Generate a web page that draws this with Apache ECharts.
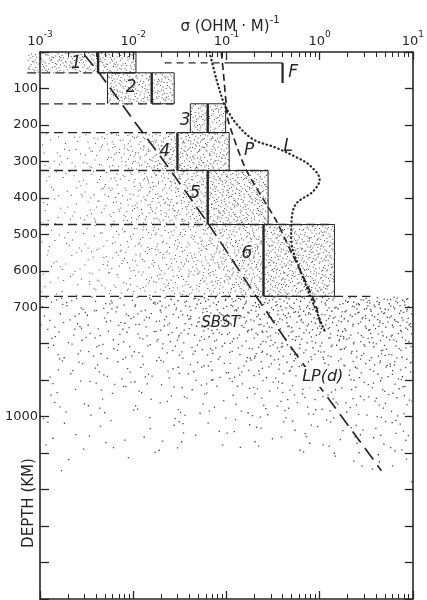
<!DOCTYPE html>
<html><head><meta charset="utf-8">
<script src="https://cdn.jsdelivr.net/npm/echarts@6/dist/echarts.min.js"></script>
<style>html,body{margin:0;padding:0;background:#fff}#c{width:427px;height:600px}</style>
</head><body><div id="c"></div>
<script>
// ---------------- data ----------------
const xTickValues = [0.001, 0.01, 0.1, 1, 10];
const xTickExponents = ['-3', '-2', '-1', '0', '1'];
const xMinorTicks = [0.002,0.003,0.004,0.005,0.006,0.007,0.008,0.009,
                     0.02,0.03,0.04,0.05,0.06,0.07,0.08,0.09,
                     0.2,0.3,0.4,0.5,0.6,0.7,0.8,0.9,
                     2,3,4,5,6,7,8,9];
const depthTickLabels = [100, 200, 300, 400, 500, 600, 700, 1000];

// conductivity layers (min / best / max sigma, top / bottom depth km)
const layerNames  = ['1', '2', '3', '4', '5', '6'];
const layerTop    = [0, 57, 142, 221, 325, 473];
const layerBottom = [57, 142, 221, 325, 473, 670];
const layerMin    = [0.00073, 0.0053, 0.041, 0.001, 0.001, 0.001];
const layerBest   = [0.0042, 0.0158, 0.063, 0.0298, 0.063, 0.25];
const layerMax    = [0.0107, 0.0275, 0.098, 0.107, 0.28, 1.44];

// dashed layer boundaries
const boundaryDepth = [57, 142, 221, 325, 473, 670];
const boundaryFrom  = [0.00073, 0.001, 0.001, 0.001, 0.001, 0.001];
const boundaryTo    = [0.0107, 0.027, 0.1, 0.28, 1.4, 3.5];

// SBST zone
const sbstTop = 670, sbstBottom = 1180;

// curve L (dotted)
const curveLSigma = [0.066, 0.0785, 0.095, 0.101, 0.13, 0.195, 0.336, 0.546, 0.785, 1.0, 0.844, 0.573, 0.507, 0.495, 0.615, 0.844, 1.13];
const curveLDepth = [0, 77, 145, 158, 199, 240, 262, 287, 311, 350, 383, 413, 445, 514, 596, 686, 765];
// curve P (dashed)
const curvePSigma = [0.088, 0.093, 0.100, 0.105, 0.162, 0.336, 0.428, 0.885, 1.05];
const curvePDepth = [0, 60, 150, 191, 322, 459, 514, 686, 760];
// curve LP(d) (long dashes)
const curveLPdSigma = [0.0030, 0.0043, 0.010, 0.0197, 0.0647, 0.207, 0.507, 4.6];
const curveLPdDepth = [8, 57, 186, 287, 473, 669, 814, 1148];
// F marker
const fSigma = [0.0217, 0.108, 0.40];
const fDepth = [30, 85];

// annotations
const annText  = ['1', '2', '3', '4', '5', '6', 'SBST', 'P', 'L', 'F', 'LP(d)'];
const annSigma = [0.00245, 0.00953, 0.036, 0.0217, 0.046, 0.166, 0.0865, 0.175, 0.46, 0.52, 1.08];
const annDepth = [33, 98, 188, 273, 388, 552, 743, 270, 260, 57, 891];

// ---------------- rendering ----------------
const INK = '#262626';
const FONT = 'DejaVu Sans';

function halton(i, b) { let f = 1, r = 0; while (i > 0) { f /= b; r += f * (i % b); i = Math.floor(i / b); } return r; }

// stipple regions built from layer arrays
const regions = [];
for (let k = 0; k < layerNames.length; k++) {
  if (k < 3) {
    regions.push({ s0: layerMin[k], s1: layerMax[k], d0: layerTop[k], d1: layerBottom[k], kind: 'dense' });
  } else {
    regions.push({ s0: layerMin[k], s1: layerBest[k], d0: layerTop[k], d1: layerBottom[k], kind: 'grad' });
    regions.push({ s0: layerBest[k], s1: layerMax[k], d0: layerTop[k], d1: layerBottom[k], kind: 'dense' });
  }
}
regions.push({ s0: 0.001, s1: 10, d0: sbstTop, d1: sbstBottom, kind: 'sbst' });

function density(kind, fx, fy) {
  if (kind === 'dense') return 0.095;
  if (kind === 'grad') return 0.012 + 0.08 * Math.pow(fx, 1.8);
  // sbst
  const bottomF = 0.82 + 0.18 * Math.pow(2 * fx - 1, 2);
  const t = fy / bottomF;
  if (t > 1) return 0;
  const side = 0.3 + 0.7 * Math.min(1, Math.pow(fx / 0.6, 1.3));
  return (0.006 + 0.05 * Math.pow(1 - t, 1.8)) * side;
}

function renderStipple(params, api) {
  const r = regions[params.dataIndex];
  const p0 = api.coord([r.s0, r.d0]);
  const p1 = api.coord([r.s1, r.d1]);
  const x0 = Math.min(p0[0], p1[0]), y0 = Math.min(p0[1], p1[1]);
  const w = Math.abs(p1[0] - p0[0]), h = Math.abs(p1[1] - p0[1]);
  const maxD = 0.1;
  const n = Math.round(w * h * maxD);
  const off = 1 + params.dataIndex * 7919;
  const sz = r.kind === 'sbst' ? 1.3 : 1.0;
  let d = '';
  for (let i = 0; i < n; i++) {
    const idx = i + off;
    const u = halton(idx, 2), v = halton(idx, 3), q = halton(idx, 5);
    if (q < density(r.kind, u, v) / maxD) {
      const px = (x0 + u * w).toFixed(1), py = (y0 + v * h).toFixed(1);
      d += 'M' + px + ' ' + py + 'h' + sz + 'v' + sz + 'h-' + sz + 'z';
    }
  }
  if (!d) return null;
  return { type: 'path', shape: { pathData: d }, style: { fill: '#4a4a4a' }, silent: true };
}

function renderBoxes(params, api) {
  const k = params.dataIndex;
  const tl = api.coord([layerBest[k], layerTop[k]]);
  const tr = api.coord([layerMax[k], layerTop[k]]);
  const br = api.coord([layerMax[k], layerBottom[k]]);
  const bl = api.coord([layerBest[k], layerBottom[k]]);
  const children = [
    { type: 'polyline', shape: { points: [tl, tr, br, bl] }, style: { stroke: INK, lineWidth: 1, fill: null } },
    { type: 'line', shape: { x1: tl[0], y1: tl[1], x2: bl[0], y2: bl[1] }, style: { stroke: INK, lineWidth: 2.4 } }
  ];
  if (k > 0 && layerMin[k] > 0.001) {
    const a = api.coord([layerMin[k], layerTop[k]]);
    const b = api.coord([layerMin[k], layerBottom[k]]);
    children.push({ type: 'line', shape: { x1: a[0], y1: a[1], x2: b[0], y2: b[1] }, style: { stroke: INK, lineWidth: 1 } });
    children.push({ type: 'line', shape: { x1: a[0], y1: a[1], x2: tl[0], y2: tl[1] }, style: { stroke: INK, lineWidth: 1 } });
  }
  return { type: 'group', children };
}

function renderBoundaries(params, api) {
  const k = params.dataIndex;
  const a = api.coord([boundaryFrom[k], boundaryDepth[k]]);
  const b = api.coord([boundaryTo[k], boundaryDepth[k]]);
  return { type: 'line', shape: { x1: a[0], y1: a[1], x2: b[0], y2: b[1] },
           style: { stroke: INK, lineWidth: 1.3, lineDash: [9, 5] } };
}

const annSize = { 'SBST': 15, 'LP(d)': 16 };
function renderAnn(params, api) {
  const i = params.dataIndex;
  const p = api.coord([annSigma[i], annDepth[i]]);
  const t = annText[i];
  const st = { text: t, fontFamily: FONT, fontStyle: 'italic', fontSize: annSize[t] || 17,
               fill: INK, align: 'center', verticalAlign: 'middle' };
  if (t === 'LP(d)') { st.backgroundColor = '#fff'; st.padding = [2, 2]; }
  return { type: 'text', x: p[0], y: p[1], style: st, z2: 10 };
}

function xLabel(v) {
  const i = xTickValues.findIndex(t => Math.abs(Math.log10(t) - Math.log10(v)) < 1e-6);
  return i < 0 ? '' : '{b|10}{s|' + xTickExponents[i] + '}';
}

const xBase = { type: 'log', logBase: 10, min: 0.001, max: 10, splitLine: { show: false }, minorTick: { show: false } };
const axisLineStyle = { color: INK, width: 1.6 };

const option = {
  animation: false,
  backgroundColor: '#fff',
  grid: { left: 40, right: 7, top: 52, bottom: 1 },
  xAxis: [
    Object.assign({}, xBase, {
      position: 'top',
      axisLine: { onZero: false, lineStyle: axisLineStyle },
      axisTick: { inside: true, length: 8, lineStyle: { color: INK, width: 1.3 } },
      axisLabel: { margin: 4, color: INK, formatter: xLabel,
        rich: { b: { fontFamily: FONT, fontSize: 13, color: INK, verticalAlign: 'bottom', lineHeight: 18 },
                s: { fontFamily: FONT, fontSize: 9, color: INK, verticalAlign: 'top', lineHeight: 18 } } }
    }),
    Object.assign({}, xBase, {
      position: 'top',
      axisLine: { show: false, onZero: false },
      axisTick: { inside: true, length: 5, customValues: xMinorTicks, lineStyle: { color: INK, width: 1 } },
      axisLabel: { show: false }
    }),
    Object.assign({}, xBase, {
      position: 'bottom',
      axisLine: { onZero: false, lineStyle: axisLineStyle },
      axisTick: { inside: true, length: 8, lineStyle: { color: INK, width: 1.3 } },
      axisLabel: { show: false }
    }),
    Object.assign({}, xBase, {
      position: 'bottom',
      axisLine: { show: false, onZero: false },
      axisTick: { inside: true, length: 5, customValues: xMinorTicks, lineStyle: { color: INK, width: 1 } },
      axisLabel: { show: false }
    })
  ],
  yAxis: [
    { type: 'value', inverse: true, min: 0, max: 1500, interval: 100, position: 'left',
      axisLine: { show: true, onZero: false, lineStyle: axisLineStyle },
      axisTick: { inside: true, length: 9, lineStyle: { color: INK, width: 1.3 } },
      axisLabel: { margin: 2, color: INK, fontFamily: FONT, fontSize: 13,
        formatter: v => depthTickLabels.includes(v) ? String(v) : '' },
      splitLine: { show: false } },
    { type: 'value', inverse: true, min: 0, max: 1500, interval: 100, position: 'right',
      axisLine: { show: true, onZero: false, lineStyle: axisLineStyle },
      axisTick: { inside: true, length: 8, lineStyle: { color: INK, width: 1.3 } },
      axisLabel: { show: false }, splitLine: { show: false } }
  ],
  graphic: [
    { type: 'text', x: 230, y: 25, style: { text: '{a|σ (OHM · M)}{s|-1}', align: 'center', verticalAlign: 'middle',
        rich: { a: { fontFamily: FONT, fontSize: 15, fill: INK, color: INK, verticalAlign: 'bottom', lineHeight: 20 },
                s: { fontFamily: FONT, fontSize: 10, fill: INK, color: INK, verticalAlign: 'top', lineHeight: 20 } } } },
    { type: 'text', x: 29, y: 503, rotation: Math.PI / 2,
      style: { text: 'DEPTH (KM)', fontFamily: FONT, fontSize: 15, fill: INK, align: 'center', verticalAlign: 'middle' } }
  ],
  series: [
    { type: 'custom', name: 'stipple', renderItem: renderStipple, clip: false, silent: true, z: 1,
      data: regions.map(r => [r.s0, r.d0]) },
    { type: 'custom', name: 'boxes', renderItem: renderBoxes, clip: false, z: 2,
      data: layerNames.map((n, k) => [layerBest[k], layerTop[k]]) },
    { type: 'custom', name: 'boundaries', renderItem: renderBoundaries, clip: false, z: 2,
      data: boundaryDepth.map((d, k) => [boundaryFrom[k], d]) },
    { type: 'line', name: 'L', symbol: 'none', smooth: 0.35, z: 3,
      data: curveLSigma.map((s, i) => [s, curveLDepth[i]]),
      lineStyle: { color: INK, width: 2.2, type: [0.5, 3.6], cap: 'round' } },
    { type: 'line', name: 'P', symbol: 'none', smooth: 0.25, z: 3,
      data: curvePSigma.map((s, i) => [s, curvePDepth[i]]),
      lineStyle: { color: INK, width: 1.7, type: [7, 4] } },
    { type: 'line', name: 'LP(d)', symbol: 'none', smooth: 0.2, z: 3,
      data: curveLPdSigma.map((s, i) => [s, curveLPdDepth[i]]),
      lineStyle: { color: INK, width: 1.7, type: [14, 7] } },
    { type: 'line', name: 'F dashed', symbol: 'none', z: 3,
      data: [[fSigma[0], fDepth[0]], [fSigma[1], fDepth[0]]],
      lineStyle: { color: INK, width: 1.3, type: [7, 5] } },
    { type: 'line', name: 'F solid', symbol: 'none', z: 3,
      data: [[fSigma[1], fDepth[0]], [fSigma[2], fDepth[0]]],
      lineStyle: { color: INK, width: 1.3, type: 'solid' } },
    { type: 'line', name: 'F tick', symbol: 'none', z: 3,
      data: [[fSigma[2], fDepth[0]], [fSigma[2], fDepth[1]]],
      lineStyle: { color: INK, width: 2.2, type: 'solid' } },
    { type: 'custom', name: 'annotations', renderItem: renderAnn, clip: false, z: 5,
      data: annText.map((t, i) => [annSigma[i], annDepth[i]]) }
  ]
};

const chart = echarts.init(document.getElementById('c'), null, { renderer: 'canvas' });
chart.setOption(option);
</script>
</body></html>
